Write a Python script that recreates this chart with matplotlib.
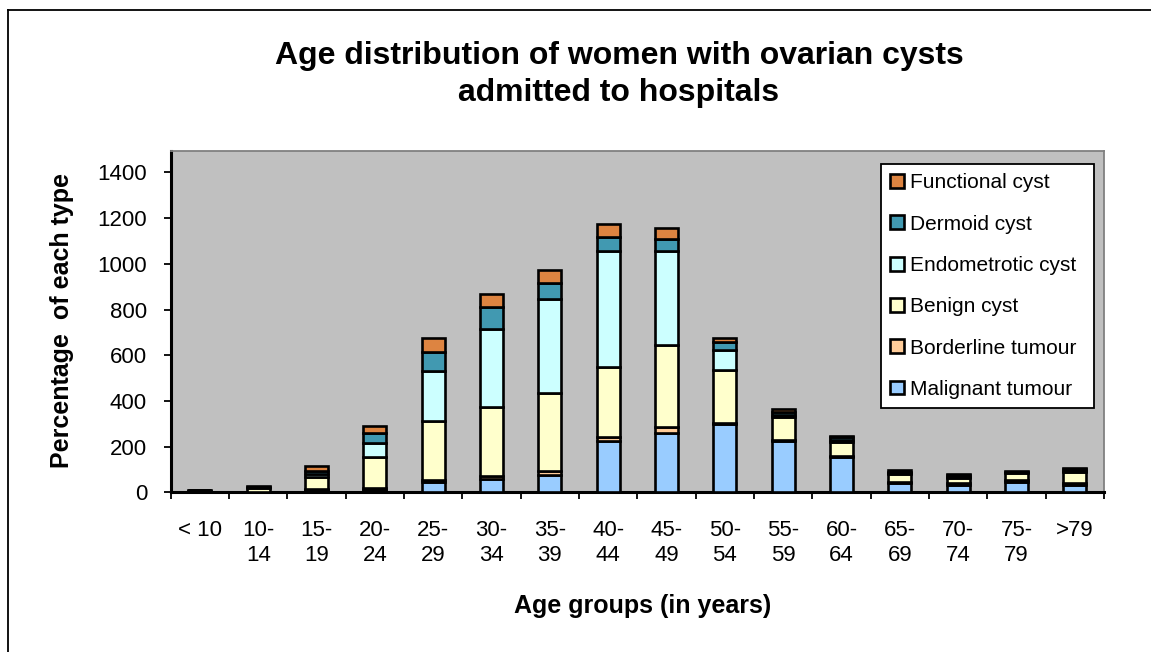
import matplotlib
matplotlib.use("Agg")
import matplotlib.pyplot as plt
import numpy as np
from matplotlib.lines import Line2D

plt.rcParams['font.family'] = ['Liberation Sans', 'DejaVu Sans']

categories = ["< 10", "10-\n14", "15-\n19", "20-\n24", "25-\n29", "30-\n34", "35-\n39",
              "40-\n44", "45-\n49", "50-\n54", "55-\n59", "60-\n64", "65-\n69", "70-\n74",
              "75-\n79", ">79"]

malignant   = [2, 2, 10, 12, 44, 58, 76, 226, 261, 299, 224, 153, 39, 33, 46, 33]
borderline  = [1, 1, 5, 6, 8, 12, 19, 14, 26, 6, 6, 5, 6, 6, 6, 7]
benign      = [4, 16, 50, 138, 261, 305, 341, 310, 359, 230, 101, 63, 35, 25, 31, 50]
endometriotic = [1, 3, 15, 61, 219, 339, 410, 507, 411, 87, 8, 6, 5, 5, 4, 5]
dermoid     = [1, 3, 15, 44, 80, 98, 71, 61, 53, 37, 12, 13, 6, 5, 4, 5]
functional  = [1, 2, 20, 29, 62, 55, 55, 56, 46, 15, 14, 6, 6, 6, 4, 5]

series = [
    ("Malignant tumour", malignant, "#99CCFF"),
    ("Borderline tumour", borderline, "#FFCC99"),
    ("Benign cyst", benign, "#FFFFCC"),
    ("Endometrotic cyst", endometriotic, "#CCFFFF"),
    ("Dermoid cyst", dermoid, "#4199B1"),
    ("Functional cyst", functional, "#DD8441"),
]

W, H = 1151, 652
fig = plt.figure(figsize=(W / 100, H / 100), dpi=100)
fig.patch.set_facecolor("white")

# outer chart border (partially visible)
fig.add_artist(Line2D([8 / W, 1.0], [1 - 10 / H, 1 - 10 / H], transform=fig.transFigure,
                      color="black", lw=1.3))
fig.add_artist(Line2D([8 / W, 8 / W], [0, 1 - 10 / H], transform=fig.transFigure,
                      color="black", lw=1.3))

ax = fig.add_axes([170.7 / W, 1 - 492.3 / H, (1104 - 170.7) / W, (492.3 - 150.7) / H])
ax.set_facecolor("#C0C0C0")

x = np.arange(len(categories))
bottom = np.zeros(len(categories))
handles = []
for name, vals, col in series:
    b = ax.bar(x, vals, bottom=bottom, width=0.39, color=col, edgecolor="black",
               linewidth=1.9, label=name, zorder=3)
    handles.append(b)
    bottom += np.array(vals)

ax.set_xlim(-0.5, len(categories) - 0.5)
ax.set_ylim(0, 1495)
ax.set_yticks(np.arange(0, 1401, 200))
ax.tick_params(axis='y', labelsize=16, length=5, width=1.3, direction='out', pad=12)
ax.set_xticks(np.arange(-0.5, len(categories), 1.0))
ax.set_xticklabels([])
ax.tick_params(axis='x', length=5, width=1.3, direction='out')
for i, lab in enumerate(categories):
    ax.text(i, -0.082, lab, transform=ax.get_xaxis_transform(), ha='center', va='top',
            fontsize=16, linespacing=1.2)

for s in ["left", "bottom"]:
    ax.spines[s].set_color("black")
    ax.spines[s].set_linewidth(2.2)
for s in ["top", "right"]:
    ax.spines[s].set_color("#808080")
    ax.spines[s].set_linewidth(1.3)

fig.text(62 / W, 1 - 321 / H, "Percentage  of each type", rotation=90, ha='center',
         va='center', fontsize=18, fontweight='bold')
fig.text(643 / W, 1 - 606 / H, "Age groups (in years)", ha='center',
         va='center', fontsize=18, fontweight='bold')
fig.text(619 / W, 1 - 74.5 / H, "Age distribution of women with ovarian cysts\nadmitted to hospitals",
         ha='center', va='center', fontsize=23, fontweight='bold', linespacing=1.33)

leg = ax.legend(handles[::-1], [s[0] for s in series][::-1], loc='upper left',
                bbox_to_anchor=(0.761, 0.25, 0.228, 0.711), mode='expand',
                fontsize=15, frameon=True, fancybox=False,
                edgecolor='black', framealpha=1, handlelength=0.65, handleheight=0.65,
                handletextpad=0.3, labelspacing=1.07, borderpad=0.45, borderaxespad=0)
leg.get_frame().set_linewidth(1.3)
leg.set_zorder(5)

fig.savefig("out.png", dpi=100)
